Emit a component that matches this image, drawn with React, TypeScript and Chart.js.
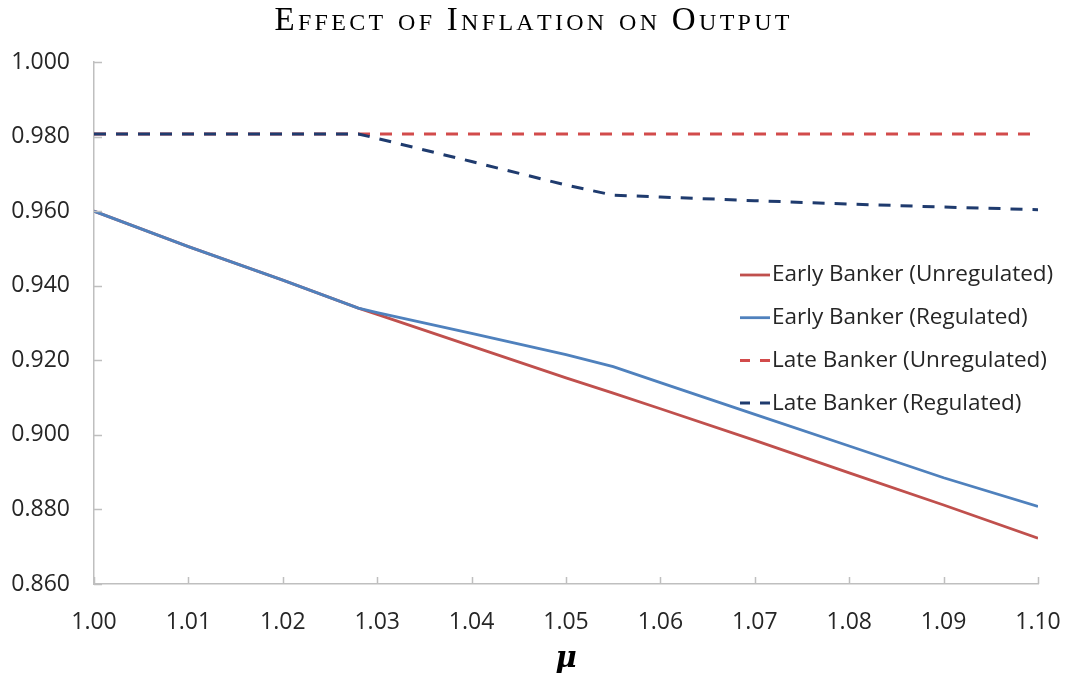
import React, { useEffect, useRef } from 'react';
import { Chart, registerables } from 'chart.js';

Chart.register(...registerables);

const TITLE = 'Effect of Inflation on Output';
const X_TITLE = 'μ';

const MU = [1.0, 1.01, 1.02, 1.028, 1.03, 1.04, 1.05, 1.055, 1.06, 1.07, 1.08, 1.09, 1.1];
const EARLY_UNREGULATED = [0.96, 0.9505, 0.9415, 0.934, 0.9323, 0.9238, 0.9153, 0.9112, 0.907, 0.8985, 0.8898, 0.8812, 0.8723];
const EARLY_REGULATED = [0.96, 0.9505, 0.9415, 0.934, 0.9328, 0.9272, 0.9215, 0.9183, 0.914, 0.9055, 0.897, 0.8885, 0.8808];
const LATE_UNREGULATED = [0.9807, 0.9807, 0.9807, 0.9807, 0.9807, 0.9807, 0.9807, 0.9807, 0.9807, 0.9807, 0.9807, 0.9807, 0.9807];
const LATE_REGULATED = [0.9807, 0.9807, 0.9807, 0.9807, 0.9795, 0.9733, 0.967, 0.9643, 0.9638, 0.9628, 0.9619, 0.9611, 0.9604];

const SERIES_LABELS = [
  'Early Banker (Unregulated)',
  'Early Banker (Regulated)',
  'Late Banker (Unregulated)',
  'Late Banker (Regulated)',
];

const X_TICKS = [1.0, 1.01, 1.02, 1.03, 1.04, 1.05, 1.06, 1.07, 1.08, 1.09, 1.1];
const Y_TICKS = [0.86, 0.88, 0.9, 0.92, 0.94, 0.96, 0.98, 1.0];

const TICK_FONT = "'Open Sans', 'Noto Sans', sans-serif";
const AXIS_COLOR = '#bfbfbf';
const TEXT_COLOR = '#262626';

const toPoints = (ys: number[]) => MU.map((x, i) => ({ x, y: ys[i] }));

const titlePlugin = {
  id: 'smallCapsTitle',
  afterDraw(chart: any) {
    const ctx = chart.ctx as CanvasRenderingContext2D;
    const family = "'Liberation Serif', 'DejaVu Serif', serif";
    const big = 33;
    const small = 24;
    const spacing = 3.3;
    const parts: { t: string; s: number }[] = [];
    for (const ch of TITLE) {
      if (ch === ' ') parts.push({ t: ' ', s: big });
      else if (ch === ch.toUpperCase()) parts.push({ t: ch, s: big });
      else parts.push({ t: ch.toUpperCase(), s: small });
    }
    ctx.save();
    let total = 0;
    for (const p of parts) {
      ctx.font = `${p.s}px ${family}`;
      total += ctx.measureText(p.t).width + spacing;
    }
    total -= spacing;
    let x = 532 - total / 2;
    ctx.fillStyle = '#000';
    ctx.textBaseline = 'alphabetic';
    ctx.textAlign = 'left';
    for (const p of parts) {
      ctx.font = `${p.s}px ${family}`;
      ctx.fillText(p.t, x, 30);
      x += ctx.measureText(p.t).width + spacing;
    }
    ctx.restore();
  },
};

const innerTicksPlugin = {
  id: 'innerTicks',
  afterDatasetsDraw(chart: any) {
    const ctx = chart.ctx as CanvasRenderingContext2D;
    const { x, y } = chart.scales;
    const area = chart.chartArea;
    ctx.save();
    ctx.strokeStyle = AXIS_COLOR;
    ctx.lineWidth = 1.5;
    ctx.beginPath();
    for (const t of y.ticks) {
      const py = Math.round(y.getPixelForValue(t.value)) + 0.5;
      ctx.moveTo(area.left, py);
      ctx.lineTo(area.left + 8, py);
    }
    for (const t of x.ticks) {
      const px = Math.round(x.getPixelForValue(t.value)) + 0.5;
      ctx.moveTo(px, area.bottom);
      ctx.lineTo(px, area.bottom - 7);
    }
    ctx.stroke();
    ctx.restore();
  },
};

const legendPlugin = {
  id: 'insideLegend',
  afterDraw(chart: any) {
    const ctx = chart.ctx as CanvasRenderingContext2D;
    const x0 = 740;
    const x1 = 770;
    const y0 = 275;
    const step = 42.7;
    ctx.save();
    ctx.font = `22.5px ${TICK_FONT}`;
    ctx.textBaseline = 'middle';
    ctx.textAlign = 'left';
    chart.data.datasets.forEach((ds: any, i: number) => {
      const y = y0 + i * step;
      ctx.strokeStyle = ds.borderColor;
      ctx.lineWidth = ds.borderWidth;
      ctx.setLineDash(ds.borderDash && ds.borderDash.length ? [10, 10] : []);
      ctx.beginPath();
      ctx.moveTo(x0, y);
      ctx.lineTo(x1, y);
      ctx.stroke();
      ctx.setLineDash([]);
      ctx.fillStyle = TEXT_COLOR;
      ctx.fillText(ds.label, x1 + 2, y);
    });
    ctx.restore();
  },
};

export default function App() {
  const canvasRef = useRef<HTMLCanvasElement | null>(null);

  useEffect(() => {
    if (!canvasRef.current) return;
    const chart = new Chart(canvasRef.current, {
      type: 'line',
      data: {
        datasets: [
          {
            label: SERIES_LABELS[0],
            data: toPoints(EARLY_UNREGULATED),
            borderColor: '#C0504D',
            borderWidth: 2.8,
            pointRadius: 0,
            tension: 0,
            order: 3,
          },
          {
            label: SERIES_LABELS[1],
            data: toPoints(EARLY_REGULATED),
            borderColor: '#4F81BD',
            borderWidth: 2.8,
            pointRadius: 0,
            tension: 0,
            order: 2,
          },
          {
            label: SERIES_LABELS[2],
            data: toPoints(LATE_UNREGULATED),
            borderColor: '#D24B4B',
            borderWidth: 3,
            borderDash: [12, 10],
            pointRadius: 0,
            tension: 0,
            order: 1,
          },
          {
            label: SERIES_LABELS[3],
            data: toPoints(LATE_REGULATED),
            borderColor: '#1F3B6E',
            borderWidth: 3,
            borderDash: [12, 10],
            pointRadius: 0,
            tension: 0,
            order: 0,
          },
        ],
      },
      options: {
        responsive: false,
        animation: false,
        devicePixelRatio: 1,
        layout: { padding: { top: 62, right: 30, left: 0, bottom: 0 } },
        plugins: {
          legend: { display: false },
          title: { display: false },
          tooltip: { enabled: false },
        },
        scales: {
          x: {
            type: 'linear',
            min: 1.0,
            max: 1.1,
            afterBuildTicks: (scale: any) => {
              scale.ticks = X_TICKS.map((v) => ({ value: v }));
            },
            afterFit: (scale: any) => {
              scale.height = 95;
              scale.paddingLeft = 0;
              scale.paddingRight = 0;
            },
            grid: { display: false, drawTicks: false },
            border: { display: true, color: AXIS_COLOR, width: 1.5 },
            ticks: {
              padding: 25,
              maxRotation: 0,
              autoSkip: false,
              color: TEXT_COLOR,
              font: { family: TICK_FONT, size: 23 },
              callback: (v: any) => Number(v).toFixed(2),
            },
            title: {
              display: true,
              text: X_TITLE,
              color: '#000',
              font: { family: "'DejaVu Serif', serif", size: 29, style: 'italic', weight: 'bold' },
              padding: { top: 0, bottom: 2 },
            },
          },
          y: {
            type: 'linear',
            min: 0.86,
            max: 1.0,
            afterBuildTicks: (scale: any) => {
              scale.ticks = Y_TICKS.map((v) => ({ value: v }));
            },
            afterFit: (scale: any) => {
              scale.width = 94;
            },
            grid: { display: false, drawTicks: false },
            border: { display: true, color: AXIS_COLOR, width: 1.5 },
            ticks: {
              padding: 24,
              autoSkip: false,
              color: TEXT_COLOR,
              font: { family: TICK_FONT, size: 23 },
              callback: (v: any) => Number(v).toFixed(3),
            },
          },
        },
      },
      plugins: [titlePlugin, innerTicksPlugin, legendPlugin],
    } as any);
    return () => chart.destroy();
  }, []);

  return (
    <div style={{ position: 'absolute', left: 0, top: 0, width: 1068, height: 679, background: '#fff' }}>
      <canvas ref={canvasRef} width={1068} height={679} style={{ display: 'block' }} />
    </div>
  );
}
